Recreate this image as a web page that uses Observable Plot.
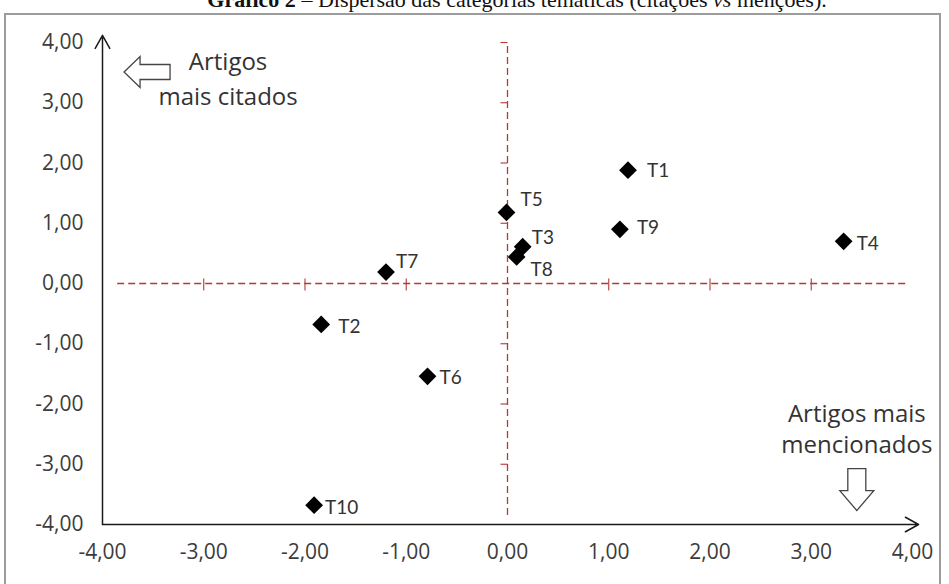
<!DOCTYPE html>
<html><head><meta charset="utf-8">
<script src="https://cdn.jsdelivr.net/npm/d3@7"></script>
<script src="https://cdn.jsdelivr.net/npm/@observablehq/plot@0.6"></script>
<style>
html,body{margin:0;padding:0;background:#fff;width:949px;height:584px;overflow:hidden;position:relative;}
#frame{position:absolute;left:4px;top:13px;width:937px;height:620px;border:2px solid #9c9c9c;box-sizing:border-box;}
#chart{position:absolute;left:0;top:0;}
#title{position:absolute;left:0;top:-10px;width:1034px;text-align:center;font-family:"Liberation Serif","Times New Roman",serif;font-size:22px;line-height:20px;color:#111;white-space:nowrap;}
</style></head>
<body>
<div id="frame"></div>
<div id="chart"></div>
<div id="title"><b>Gráfico 2</b> – Dispersão das categorias temáticas (citações <i>vs</i> menções).</div>
<script>
// data
const names    = ["T1","T2","T3","T4","T5","T6","T7","T8","T9","T10"];
const mencoes  = [1.19,-1.84,0.15,3.32,-0.01,-0.79,-1.20,0.09,1.11,-1.91];
const citacoes = [1.88,-0.68,0.61,0.70,1.18,-1.54,0.19,0.44,0.90,-3.68];
const tickValues = [-4,-3,-2,-1,0,1,2,3,4];
const refTicksX = [-3,-2,-1,1,2,3];
const refTicksY = [-3,-2,-1,1,2,3,4];
const annotTexts = ["Artigos","mais citados","Artigos mais","mencionados"];
const annotX = [-2.76,-2.76,3.45,3.45];
const annotY = [3.55,2.96,-2.30,-2.82];
const arrowX = [-3.56,3.45];
const arrowY = [3.51,-3.42];

const points = names.map((n,i)=>({name:n, x:mencoes[i], y:citacoes[i]}));
const annots = annotTexts.map((t,i)=>({text:t, x:annotX[i], y:annotY[i]}));
const fmt = d => d.toFixed(2).replace(".", ",").replace("\u2212","-");

// label nudges (style)
const nudge = {T1:[19,1],T2:[17,2],T3:[9,-9],T4:[13,3],T5:[14,-12],T6:[12,2],T7:[10,-10],T8:[14,13],T9:[17,-1],T10:[11,3]};

const vTick = {draw(ctx){ctx.moveTo(0,-5);ctx.lineTo(0,7);}};
const hTick = {draw(ctx){ctx.moveTo(-7,0);ctx.lineTo(0,0);}};
const leftArrow = {draw(ctx){
  ctx.moveTo(-23,0);ctx.lineTo(-7,-15.5);ctx.lineTo(-7,-7.5);ctx.lineTo(23,-7.5);
  ctx.lineTo(23,7.5);ctx.lineTo(-7,7.5);ctx.lineTo(-7,15.5);ctx.closePath();}};
const downArrow = {draw(ctx){
  ctx.moveTo(0,21);ctx.lineTo(-17,1);ctx.lineTo(-9,1);ctx.lineTo(-9,-21);
  ctx.lineTo(9,-21);ctx.lineTo(9,1);ctx.lineTo(17,1);ctx.closePath();}};

const red = "#b23a36";
const sans = "'Open Sans', sans-serif";

const plot = Plot.plot({
  width: 949, height: 584,
  marginLeft: 102, marginRight: 37, marginTop: 42, marginBottom: 60,
  x: {domain: [-4, 4]},
  y: {domain: [-4, 4]},
  style: {background: "transparent", fontFamily: sans, overflow: "visible"},
  marks: [
    // reference dashed lines through the origin
    Plot.ruleY([0], {x1: -3.85, x2: 3.95, stroke: red, strokeWidth: 1.3, strokeDasharray: "7,4"}),
    Plot.ruleX([0], {y1: -3.85, y2: 4, stroke: red, strokeWidth: 1.3, strokeDasharray: "7,4"}),
    Plot.dot(refTicksX, {x: d => d, y: () => 0, symbol: vTick, r: 5, fill: "none", stroke: red, strokeWidth: 1.1}),
    Plot.dot(refTicksY, {x: () => 0, y: d => d, symbol: hTick, r: 5, fill: "none", stroke: red, strokeWidth: 1.1}),
    // axes
    Plot.axisX(tickValues, {anchor: "bottom", tickSize: 0, tickPadding: 20, tickFormat: fmt, label: null, fontSize: 21, fontFamily: sans, color: "#3c3c3c"}),
    Plot.axisY(tickValues, {anchor: "left", tickSize: 0, tickPadding: 19, tickFormat: fmt, label: null, fontSize: 21, fontFamily: sans, color: "#3c3c3c"}),
    Plot.arrow([{x1: -4, y1: -4, x2: 4.06, y2: -4}], {x1: "x1", y1: "y1", x2: "x2", y2: "y2", stroke: "#1a1a1a", strokeWidth: 1.5, headLength: 15, headAngle: 58}),
    Plot.arrow([{x1: -4, y1: -4, x2: -4, y2: 4.12}], {x1: "x1", y1: "y1", x2: "x2", y2: "y2", stroke: "#1a1a1a", strokeWidth: 1.5, headLength: 15, headAngle: 58}),
    // annotations
    Plot.dot([0], {x: () => arrowX[0], y: () => arrowY[0], symbol: leftArrow, r: 5, fill: "white", stroke: "#444", strokeWidth: 1.3}),
    Plot.dot([0], {x: () => arrowX[1], y: () => arrowY[1], symbol: downArrow, r: 5, fill: "white", stroke: "#444", strokeWidth: 1.3}),
    Plot.text(annots, {x: "x", y: "y", text: "text", textAnchor: "middle", lineAnchor: "bottom", fontSize: 24, fontFamily: sans, fill: "#333"}),
    // points
    Plot.dot(points, {x: "x", y: "y", symbol: "diamond2", r: 8, fill: "black"}),
    ...names.map(n => Plot.text(points.filter(p => p.name === n), {
      x: "x", y: "y", text: "name", textAnchor: "start",
      dx: nudge[n][0], dy: nudge[n][1], fontSize: 19, fontFamily: "Lato, 'Open Sans', sans-serif", fill: "#333"
    }))
  ]
});
document.getElementById("chart").appendChild(plot);
</script>
</body></html>
